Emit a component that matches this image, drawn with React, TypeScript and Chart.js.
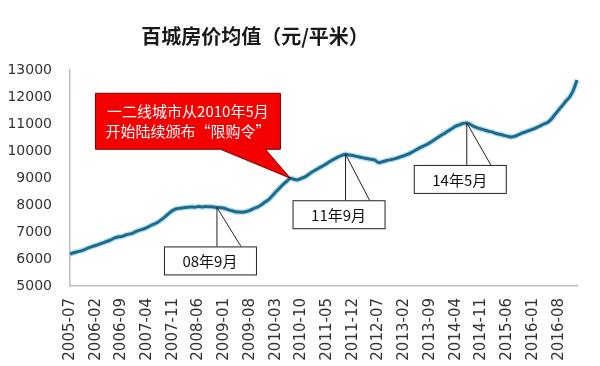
import React, { useEffect, useRef } from "react";
import { Chart, registerables } from "chart.js";

Chart.register(...registerables);

const TITLE = "百城房价均值（元/平米）";
const FIRST_YEAR = 2005;
const FIRST_MONTH = 7;

// monthly average price (元/平米), 2005-07 onward
const PRICES = [
  6185, 6230, 6270, 6300, 6350, 6410, 6460, 6500, 6550, 6600,
  6650, 6700, 6770, 6815, 6830, 6880, 6920, 6950, 7020, 7070,
  7110, 7170, 7240, 7300, 7370, 7470, 7580, 7700, 7800, 7860,
  7880, 7900, 7920, 7930, 7920, 7940, 7930, 7940, 7935, 7930,
  7910, 7900, 7880, 7830, 7790, 7750, 7740, 7735, 7760, 7800,
  7870, 7920, 8000, 8100, 8190, 8330, 8480, 8620, 8760, 8880,
  8990, 8950, 8930, 8990, 9040, 9140, 9230, 9310, 9390, 9460,
  9550, 9630, 9710, 9780, 9840, 9880, 9850, 9830, 9800, 9770,
  9740, 9710, 9690, 9660, 9570, 9600, 9640, 9670, 9700, 9740,
  9780, 9830, 9880, 9950, 10030, 10100, 10170, 10230, 10310, 10400,
  10490, 10580, 10660, 10750, 10830, 10920, 10970, 11020, 11040, 10980,
  10900, 10850, 10810, 10770, 10730, 10700, 10650, 10620, 10580, 10550,
  10520, 10540, 10600, 10660, 10710, 10760, 10810, 10870, 10930, 11000,
  11060, 11180, 11350, 11520, 11680, 11850, 12000, 12250, 12630,
];

const TICK_LABELS = [
  "2005-07", "2006-02", "2006-09", "2007-04", "2007-11", "2008-06", "2009-01",
  "2009-08", "2010-03", "2010-10", "2011-05", "2011-12", "2012-07", "2013-02",
  "2013-09", "2014-04", "2014-11", "2015-06", "2016-01", "2016-08",
];

const Y_MIN = 5000;
const Y_MAX = 13000;
const Y_STEP = 1000;

const NOTE_LINES = ["一二线城市从2010年5月", "开始陆续颁布“限购令”"];
const NOTE_INDEX = 60;

const CALLOUT_LABELS = ["08年9月", "11年9月", "14年5月"];
const CALLOUT_INDEX = [40, 75, 108];
const CALLOUT_DROP = [39, 46, 42];

const MONTHS: string[] = [];
for (let i = 0; i < PRICES.length; i++) {
  const m0 = FIRST_MONTH - 1 + i;
  const y = FIRST_YEAR + Math.floor(m0 / 12);
  const m = (m0 % 12) + 1;
  MONTHS.push(`${y}-${m < 10 ? "0" + m : m}`);
}

const CJK = '"Noto Sans CJK SC", "DejaVu Sans", sans-serif';

const titlePlugin = {
  id: "titleText",
  afterDraw(chart: any) {
    const ctx = chart.ctx;
    ctx.save();
    ctx.font = `bold 20px ${CJK}`;
    ctx.fillStyle = "#1a1a1a";
    ctx.textAlign = "center";
    ctx.textBaseline = "middle";
    ctx.fillText(TITLE, 255, 36);
    ctx.restore();
  },
};

const notesPlugin = {
  id: "notes",
  afterDatasetsDraw(chart: any) {
    const meta = chart.getDatasetMeta(0);
    const ctx = chart.ctx;
    ctx.save();

    // red callout
    const tip = meta.data[NOTE_INDEX];
    const tx = tip.x;
    const ty = tip.y;
    const L = tx - 195;
    const R = tx - 10;
    const T = ty - 85;
    const B = ty - 29;
    ctx.beginPath();
    ctx.moveTo(L, T);
    ctx.lineTo(R, T);
    ctx.lineTo(R, B);
    ctx.lineTo(tx - 25, B);
    ctx.lineTo(tx, ty);
    ctx.lineTo(tx - 70, B);
    ctx.lineTo(L, B);
    ctx.closePath();
    ctx.fillStyle = "#f40000";
    ctx.fill();
    ctx.strokeStyle = "#7a0000";
    ctx.lineWidth = 1;
    ctx.stroke();
    ctx.fillStyle = "#ffffff";
    ctx.font = `15px ${CJK}`;
    ctx.textAlign = "center";
    ctx.textBaseline = "middle";
    const cx = (L + R) / 2;
    ctx.fillText(NOTE_LINES[0], cx, T + 18);
    ctx.fillText(NOTE_LINES[1], cx, T + 38);

    // white callouts
    CALLOUT_LABELS.forEach((label, k) => {
      const p = meta.data[CALLOUT_INDEX[k]];
      const px = p.x;
      const py = p.y;
      const top = py + CALLOUT_DROP[k];
      const left = px - 53;
      const w = 92;
      const h = 28;
      ctx.fillStyle = "#ffffff";
      ctx.fillRect(left, top, w, h);
      ctx.strokeStyle = "#222222";
      ctx.lineWidth = 1;
      ctx.strokeRect(left + 0.5, top + 0.5, w, h);
      ctx.beginPath();
      ctx.moveTo(px, top);
      ctx.lineTo(px, py);
      ctx.lineTo(px + 24, top);
      ctx.stroke();
      ctx.fillStyle = "#111111";
      ctx.font = `15px ${CJK}`;
      ctx.textAlign = "center";
      ctx.textBaseline = "middle";
      ctx.fillText(label, left + w / 2, top + h / 2 + 1);
    });
    ctx.restore();
  },
};

export default function App() {
  const ref = useRef<HTMLCanvasElement>(null);

  useEffect(() => {
    if (!ref.current) return;
    const chart = new Chart(ref.current, {
      type: "line",
      data: {
        labels: MONTHS,
        datasets: [
          {
            data: PRICES,
            borderColor: "#21698a",
            borderWidth: 3,
            pointRadius: 0,
            tension: 0.3,
            fill: false,
            order: 0,
          },
          {
            data: PRICES,
            borderColor: "rgba(150, 215, 235, 0.75)",
            borderWidth: 5.5,
            pointRadius: 0,
            tension: 0.3,
            fill: false,
            order: 1,
          },
        ],
      },
      options: {
        animation: false,
        responsive: true,
        maintainAspectRatio: false,
        layout: { padding: { top: 70, right: 23, left: 0, bottom: 0 } },
        plugins: {
          legend: { display: false },
          title: { display: false },
          tooltip: { enabled: false },
        },
        scales: {
          x: {
            type: "category",
            offset: false,
            grid: { display: false, drawTicks: false },
            border: { display: true, color: "#bdbdbd", width: 1.5 },
            ticks: {
              autoSkip: false,
              maxRotation: 90,
              minRotation: 90,
              padding: 12,
              color: "#333333",
              font: { family: "DejaVu Sans", size: 15 },
              callback: (_v: any, i: number) =>
                TICK_LABELS.includes(MONTHS[i]) ? MONTHS[i] : null,
            },
            afterFit: (s: any) => {
              s.height = 80;
            },
          },
          y: {
            min: Y_MIN,
            max: Y_MAX,
            grid: { display: false, drawTicks: false },
            border: { display: true, color: "#bdbdbd", width: 1.5 },
            ticks: {
              stepSize: Y_STEP,
              padding: 18,
              color: "#333333",
              font: { family: "DejaVu Sans", size: 14 },
              callback: (v: any) => String(v),
            },
            afterFit: (s: any) => {
              s.width = 70;
            },
          },
        },
      },
      plugins: [titlePlugin, notesPlugin],
    });
    return () => chart.destroy();
  }, []);

  return (
    <div
      style={{
        position: "fixed",
        left: 0,
        top: 0,
        width: 600,
        height: 366,
        background: "#ffffff",
      }}
    >
      <canvas ref={ref} />
    </div>
  );
}
